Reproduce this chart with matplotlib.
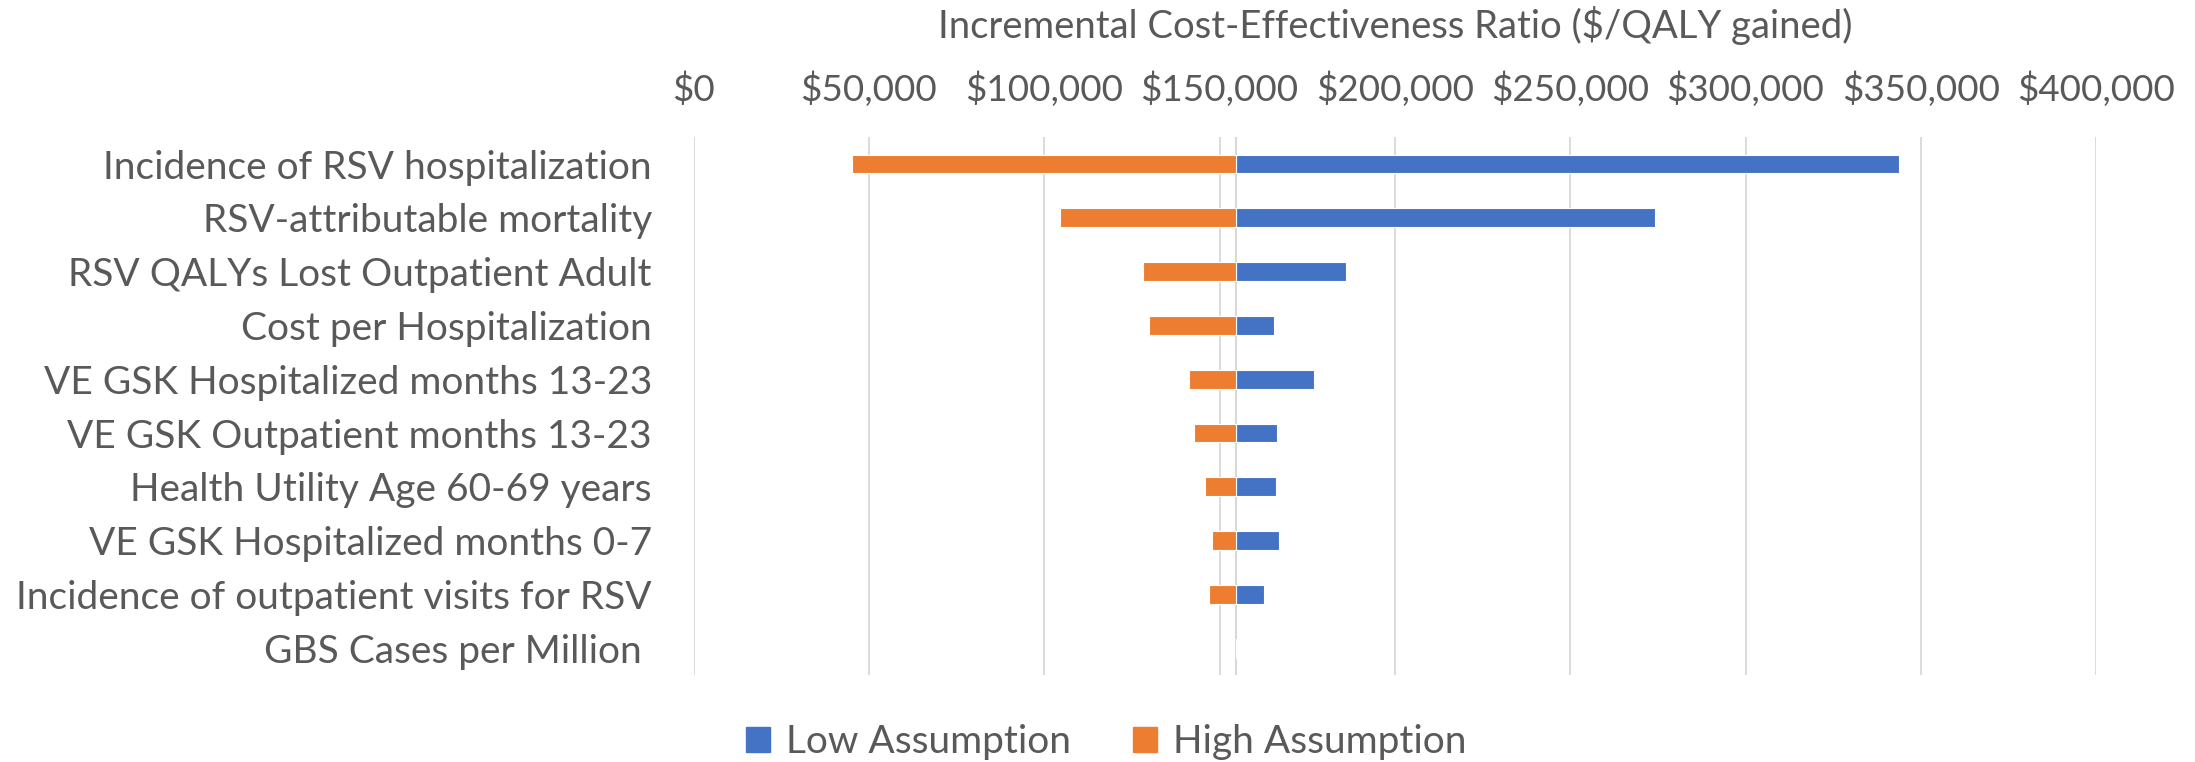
import matplotlib.pyplot as plt
from matplotlib.patches import Patch
from matplotlib.ticker import FuncFormatter

plt.rcParams['font.family'] = ['Lato', 'DejaVu Sans']

# tornado data ($/QALY gained)
parameters = [
    "Incidence of RSV hospitalization",
    "RSV-attributable mortality",
    "RSV QALYs Lost Outpatient Adult",
    "Cost per Hospitalization",
    "VE GSK Hospitalized months 13-23",
    "VE GSK Outpatient months 13-23",
    "Health Utility Age 60-69 years",
    "VE GSK Hospitalized months 0-7",
    "Incidence of outpatient visits for RSV",
    "GBS Cases per Million ",
]
base_icer = 154600
low_icer = [343700, 274300, 186100, 165500, 176800, 166300, 166200, 166800, 162600, 154600]
high_icer = [45200, 104400, 128100, 129900, 141400, 142800, 145700, 147900, 147100, 154600]
xticks = [0, 50000, 100000, 150000, 200000, 250000, 300000, 350000, 400000]

BLUE = "#4472C4"
ORANGE = "#ED7D31"
GREY_TXT = "#595959"
GRID = "#D9D9D9"

fig = plt.figure(figsize=(21.95, 7.62), dpi=100)
ax = fig.add_axes([0.316, 0.114, 0.639, 0.706])

ypos = list(range(len(parameters)))
bar_h = 0.35
ax.barh(ypos, [v - base_icer for v in low_icer], left=base_icer, height=bar_h,
        color=BLUE, edgecolor="white", linewidth=0.8, zorder=3)
ax.barh(ypos, [v - base_icer for v in high_icer], left=base_icer, height=bar_h,
        color=ORANGE, edgecolor="white", linewidth=0.8, zorder=3)

ax.set_xlim(0, 400000)
ax.set_ylim(len(parameters) - 0.5, -0.5)
# vertical axis crosses at the base-case ICER
ax.axvline(base_icer, color=GRID, linewidth=1.5, zorder=2)

ax.xaxis.tick_top()
ax.set_xticks(xticks)
ax.xaxis.set_major_formatter(FuncFormatter(lambda v, p: f"${v:,.0f}"))
ax.tick_params(axis="x", length=0, labelsize=26.5, labelcolor=GREY_TXT, pad=22)
ax.grid(axis="x", color=GRID, linewidth=1.3, zorder=0)
ax.text(0.5, 1.207, "Incremental Cost-Effectiveness Ratio ($/QALY gained)",
        transform=ax.transAxes, fontsize=27.5, color=GREY_TXT,
        ha="center", va="center")

ax.set_yticks(ypos)
ax.set_yticklabels(parameters)
ax.tick_params(axis="y", length=0, labelsize=28, labelcolor=GREY_TXT, pad=30)

for s in ax.spines.values():
    s.set_visible(False)

handles = [Patch(color=BLUE, label="Low Assumption"),
           Patch(color=ORANGE, label="High Assumption")]
fig.legend(handles=handles, loc="center", bbox_to_anchor=(0.504, 0.026),
           ncol=2, frameon=False, fontsize=28, labelcolor=GREY_TXT,
           handlelength=0.62, handleheight=0.62, columnspacing=1.6, handletextpad=0.4)

fig.savefig("out.png", dpi=100)
